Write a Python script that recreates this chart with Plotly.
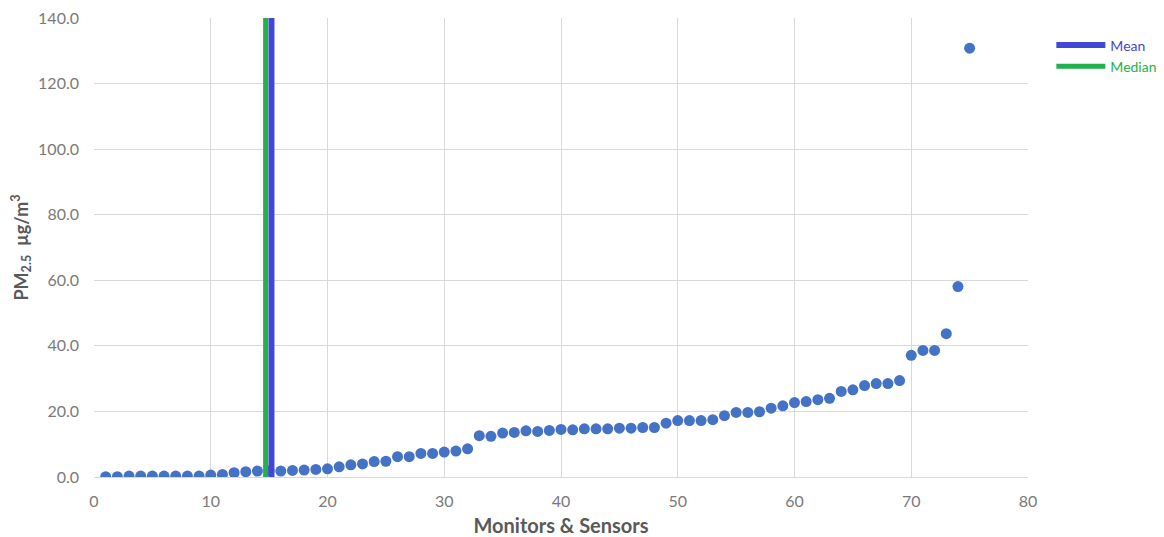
import plotly.graph_objects as go

monitor_index = list(range(1, 76))
pm25_values = [
    0.1, 0.1, 0.3, 0.3, 0.3, 0.3, 0.3, 0.3, 0.3, 0.6,
    0.8, 1.3, 1.6, 1.8, 1.9, 1.8, 2.0, 2.1, 2.3, 2.5,
    3.1, 3.7, 4.0, 4.7, 4.8, 6.2, 6.2, 7.2, 7.2, 7.6,
    7.9, 8.6, 12.6, 12.4, 13.4, 13.6, 14.1, 13.9, 14.2, 14.5,
    14.4, 14.7, 14.7, 14.7, 14.9, 14.9, 15.1, 15.1, 16.4, 17.2,
    17.2, 17.2, 17.5, 18.7, 19.7, 19.7, 19.9, 21.0, 21.7, 22.7,
    23.0, 23.6, 24.0, 26.1, 26.6, 27.9, 28.5, 28.5, 29.4, 37.1,
    38.6, 38.6, 43.7, 58.1, 130.8,
]
mean_value = 15.2
median_value = 14.7
line_span = [0, 140]
x_ticks = [0, 10, 20, 30, 40, 50, 60, 70, 80]
y_ticks = [0, 20, 40, 60, 80, 100, 120, 140]

FONT = "Lato"
GREY = "#595959"
TICK_GREY = "#7A7A7A"

fig = go.Figure()
fig.add_trace(go.Scatter(
    x=monitor_index, y=pm25_values, mode="markers",
    marker=dict(color="#4472C4", size=11),
    showlegend=False, hoverinfo="x+y",
))
fig.add_trace(go.Scatter(
    x=[median_value, median_value], y=line_span, mode="lines",
    line=dict(color="#22B14C", width=5),
    name="<span style='color:#22B14C'>Median</span>", legendrank=2,
))
fig.add_trace(go.Scatter(
    x=[mean_value, mean_value], y=line_span, mode="lines",
    line=dict(color="#4348D4", width=6),
    name="<span style='color:#4348D4'>Mean</span>", legendrank=1,
))

fig.update_layout(
    width=1156, height=529,
    margin=dict(l=86, r=136, t=10, b=60, autoexpand=False),
    paper_bgcolor="white", plot_bgcolor="white",
    font=dict(family=FONT, color=GREY, size=13),
    legend=dict(x=1.025, y=0.975, xanchor="left", yanchor="top",
                font=dict(size=14), bgcolor="rgba(0,0,0,0)",
                tracegroupgap=0, itemwidth=49),
    xaxis=dict(
        range=[0, 80], tickvals=x_ticks, ticktext=[str(v) for v in x_ticks],
        showgrid=True, gridcolor="#D9D9D9", gridwidth=1,
        zeroline=False, showline=True, linecolor="#D9D9D9", linewidth=1,
        ticks="", tickfont=dict(size=16, color=TICK_GREY), ticklabelstandoff=10,
        ticklabeloverflow="allow", automargin=False,
        title=dict(text="<b>Monitors &amp; Sensors</b>", font=dict(size=20, color=GREY), standoff=12),
    ),
    yaxis=dict(
        range=[0, 140], tickvals=y_ticks, ticktext=[f"{v:.1f}" for v in y_ticks],
        showgrid=True, gridcolor="#D9D9D9", gridwidth=1,
        zeroline=False, showline=False,
        ticks="", tickfont=dict(size=16, color=TICK_GREY), ticklabelstandoff=14,
        ticklabeloverflow="allow", automargin=False,
        title=dict(text="<b>PM<sub>2.5</sub>  µg/m<sup>3</sup></b>", font=dict(size=18, color=GREY), standoff=14),
    ),
)

fig.write_html("out.html")
